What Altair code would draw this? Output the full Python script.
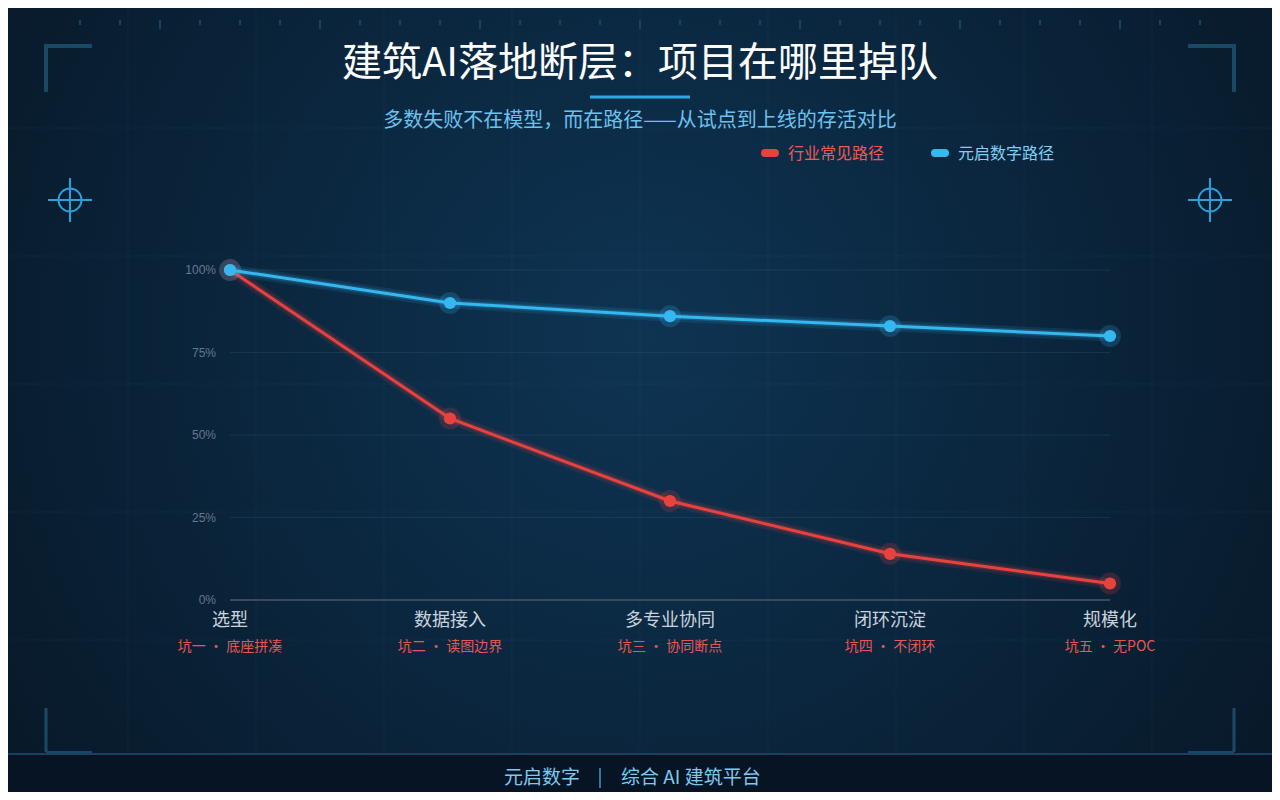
import altair as alt
import pandas as pd

# ---------------- data ----------------
stages = ["选型", "数据接入", "多专业协同", "闭环沉淀", "规模化"]
pits = ["坑一 · 底座拼凑", "坑二 · 读图边界", "坑三 · 协同断点", "坑四 · 不闭环", "坑五 · 无POC"]
industry = [1.00, 0.55, 0.30, 0.14, 0.05]
yuanqi = [1.00, 0.90, 0.86, 0.83, 0.80]
series_names = ["行业常见路径", "元启数字路径"]
y_ticks = [0, 0.25, 0.5, 0.75, 1.0]

title_text = "建筑AI落地断层：项目在哪里掉队"
subtitle_text = "多数失败不在模型，而在路径——从试点到上线的存活对比"
footer_left = "元启数字"
footer_right = "综合 AI 建筑平台"

# ---------------- style ----------------
FONT = "Noto Sans CJK SC"
RED = "#e8423f"
BLUE = "#35b7f0"
OX, OY = 230, 270          # page position of plot origin
W, H = 880, 330            # plot area
CW, CH = 1264, 784         # canvas
PL, PT = OX - 8, OY - 8

one = alt.Data(values=[{}])


def rule(x1, y1, x2, y2, color, width, opacity=1.0, cap="butt"):
    return alt.Chart(one).mark_rule(
        color=color, strokeWidth=width, opacity=opacity, strokeCap=cap
    ).encode(
        x=alt.value(x1 - OX), y=alt.value(y1 - OY),
        x2=alt.value(x2 - OX), y2=alt.value(y2 - OY),
    )


def txt(s, x, y, size, color, align="center", weight="normal"):
    return alt.Chart(one).mark_text(
        text=s, fontSize=size, color=color, align=align, baseline="middle",
        font=FONT, fontWeight=weight,
    ).encode(x=alt.value(x - OX), y=alt.value(y - OY))


# ---------------- decoration ----------------
bg = alt.Chart(one).mark_rect(
    fill={
        "gradient": "radial",
        "stops": [
            {"offset": 0, "color": "#0e3453"},
            {"offset": 0.5, "color": "#0a2339"},
            {"offset": 1, "color": "#07121e"},
        ],
        "x1": 0.5, "y1": 0.45, "r1": 0,
        "x2": 0.5, "y2": 0.45, "r2": 0.75,
    }
).encode(
    x=alt.value(8 - OX), x2=alt.value(8 + CW - OX),
    y=alt.value(8 - OY), y2=alt.value(8 + CH - OY),
)

grid_v = pd.DataFrame({"gx": [128 * k - OX for k in range(1, 10)]})
grid_h = pd.DataFrame({"gy": [128 * k - OY for k in range(1, 6)]})
vlines = alt.Chart(grid_v).mark_rule(color="#3f86c0", opacity=0.08, strokeWidth=1).encode(
    x=alt.X("gx:Q", scale=None, axis=None),
    y=alt.value(8 - OY), y2=alt.value(753 - OY),
)
hlines = alt.Chart(grid_h).mark_rule(color="#3f86c0", opacity=0.08, strokeWidth=1).encode(
    y=alt.Y("gy:Q", scale=None, axis=None),
    x=alt.value(8 - OX), x2=alt.value(8 + CW - OX),
)

tick_x = list(range(80, 1201, 40))
ticks_df = pd.DataFrame({
    "tx": [t - OX for t in tick_x],
    "ty1": [20 - OY for t in tick_x],
    "ty2": [(29 if t % 160 == 0 else 25) - OY for t in tick_x],
})
top_ticks = alt.Chart(ticks_df).mark_rule(color="#174260", strokeWidth=2).encode(
    x=alt.X("tx:Q", scale=None, axis=None),
    y=alt.Y("ty1:Q", scale=None, axis=None),
    y2="ty2:Q",
)

CORNER = "#1a4966"
corners = [
    rule(44, 46, 92, 46, CORNER, 4), rule(46, 46, 46, 92, CORNER, 4),
    rule(1188, 46, 1236, 46, CORNER, 4), rule(1234, 46, 1234, 92, CORNER, 4),
    rule(46, 708, 46, 752, CORNER, 3), rule(46, 752, 92, 752, CORNER, 2),
    rule(1234, 708, 1234, 752, CORNER, 3), rule(1188, 752, 1234, 752, CORNER, 2),
]

CROSS = "#2b9fd8"
crosshairs = []
for cx in (70, 1210):
    cy = 200
    crosshairs += [
        rule(cx - 22, cy, cx + 22, cy, CROSS, 2),
        rule(cx, cy - 22, cx, cy + 22, CROSS, 2),
        alt.Chart(one).mark_point(
            shape="circle", filled=False, color=CROSS, strokeWidth=2, size=531, opacity=1
        ).encode(x=alt.value(cx - OX), y=alt.value(cy - OY)),
    ]

footer_band = alt.Chart(one).mark_rect(color="#061423").encode(
    x=alt.value(8 - OX), x2=alt.value(8 + CW - OX),
    y=alt.value(754 - OY), y2=alt.value(8 + CH - OY),
)
footer_line = rule(8, 754, 8 + CW, 754, "#17425f", 2)

texts = [
    txt(title_text, 640, 64, 40, "#ffffff"),
    rule(590, 97, 690, 97, "#2aa9e3", 3),
    txt(subtitle_text, 640, 121, 20, "#6cc2ee"),
    rule(765, 153, 775, 153, RED, 8, cap="round"),
    txt(series_names[0], 788, 154, 16, "#f05a56", align="left"),
    rule(935, 153, 945, 153, BLUE, 8, cap="round"),
    txt(series_names[1], 958, 154, 16, "#7fd0f6", align="left"),
    txt(footer_left, 580, 778, 19, "#7ccaf0", align="right"),
    rule(600, 768, 600, 788, "#3c7396", 2),
    txt(footer_right, 621, 778, 19, "#7ccaf0", align="left"),
]

deco = alt.layer(bg, vlines, hlines, top_ticks, *corners, *crosshairs,
                 footer_band, footer_line, *texts)

# ---------------- main chart ----------------
xscale = alt.Scale(type="point", padding=0)
yscale = alt.Scale(domain=[0, 1])

stage_df = pd.DataFrame({"stage": stages, "pit": pits})
base_x = alt.X("stage:N", sort=stages, scale=xscale, axis=None)
tick_df = pd.DataFrame({"v": y_ticks})

# horizontal gridlines
grid_rules = alt.Chart(pd.DataFrame({"v": y_ticks[1:]})).mark_rule(
    color="#5a86b0", opacity=0.16, strokeWidth=1
).encode(
    y=alt.Y("v:Q", scale=yscale, axis=None),
    x=alt.value(0), x2=alt.value(W),
)

# x baseline (0%)
baseline = alt.Chart(pd.DataFrame({"v": [0]})).mark_rule(
    color="#3a4a5e", strokeWidth=2
).encode(
    y=alt.Y("v:Q", scale=yscale, axis=None),
    x=alt.value(0), x2=alt.value(W),
)

# y tick labels
y_labels = alt.Chart(tick_df).mark_text(
    align="right", baseline="middle", fontSize=12, color="#66788e", font="Liberation Sans"
).encode(
    y=alt.Y("v:Q", scale=yscale, axis=None),
    x=alt.value(-14),
    text=alt.Text("v:Q", format=".0%"),
)

series_layers = []
for name, vals, col in ((series_names[0], industry, RED), (series_names[1], yuanqi, BLUE)):
    d = pd.DataFrame({"stage": stages, "v": vals, "series": [name] * len(stages)})
    b = alt.Chart(d).encode(x=base_x, y=alt.Y("v:Q", scale=yscale, axis=None))
    series_layers += [
        b.mark_line(color=col, strokeWidth=11, opacity=0.12),
        b.mark_line(color=col, strokeWidth=6, opacity=0.2),
        b.mark_point(filled=True, color=col, size=480, opacity=0.2),
        b.mark_line(color=col, strokeWidth=3),
        b.mark_point(filled=True, color=col, size=150, opacity=1),
    ]

stage_labels = alt.Chart(stage_df).mark_text(
    fontSize=18, color="#c9d3de", font=FONT, baseline="middle"
).encode(x=base_x, y=alt.value(621 - OY), text="stage:N")
pit_labels = alt.Chart(stage_df).mark_text(
    fontSize=14, color="#e4585a", font=FONT, baseline="middle"
).encode(x=base_x, y=alt.value(647 - OY), text="pit:N")

main = alt.layer(grid_rules, baseline, y_labels, *series_layers, stage_labels, pit_labels)

chart = alt.layer(deco, main).resolve_scale(x="independent", y="independent").properties(
    width=W, height=H,
    autosize=alt.AutoSizeParams(type="none"),
    padding={"left": PL, "top": PT, "right": CW - PL - W, "bottom": CH - PT - H},
    background="#07121e",
).configure_view(stroke=None).configure(font=FONT)

chart.save("out.html", embed_options={"renderer": "svg", "actions": False})
